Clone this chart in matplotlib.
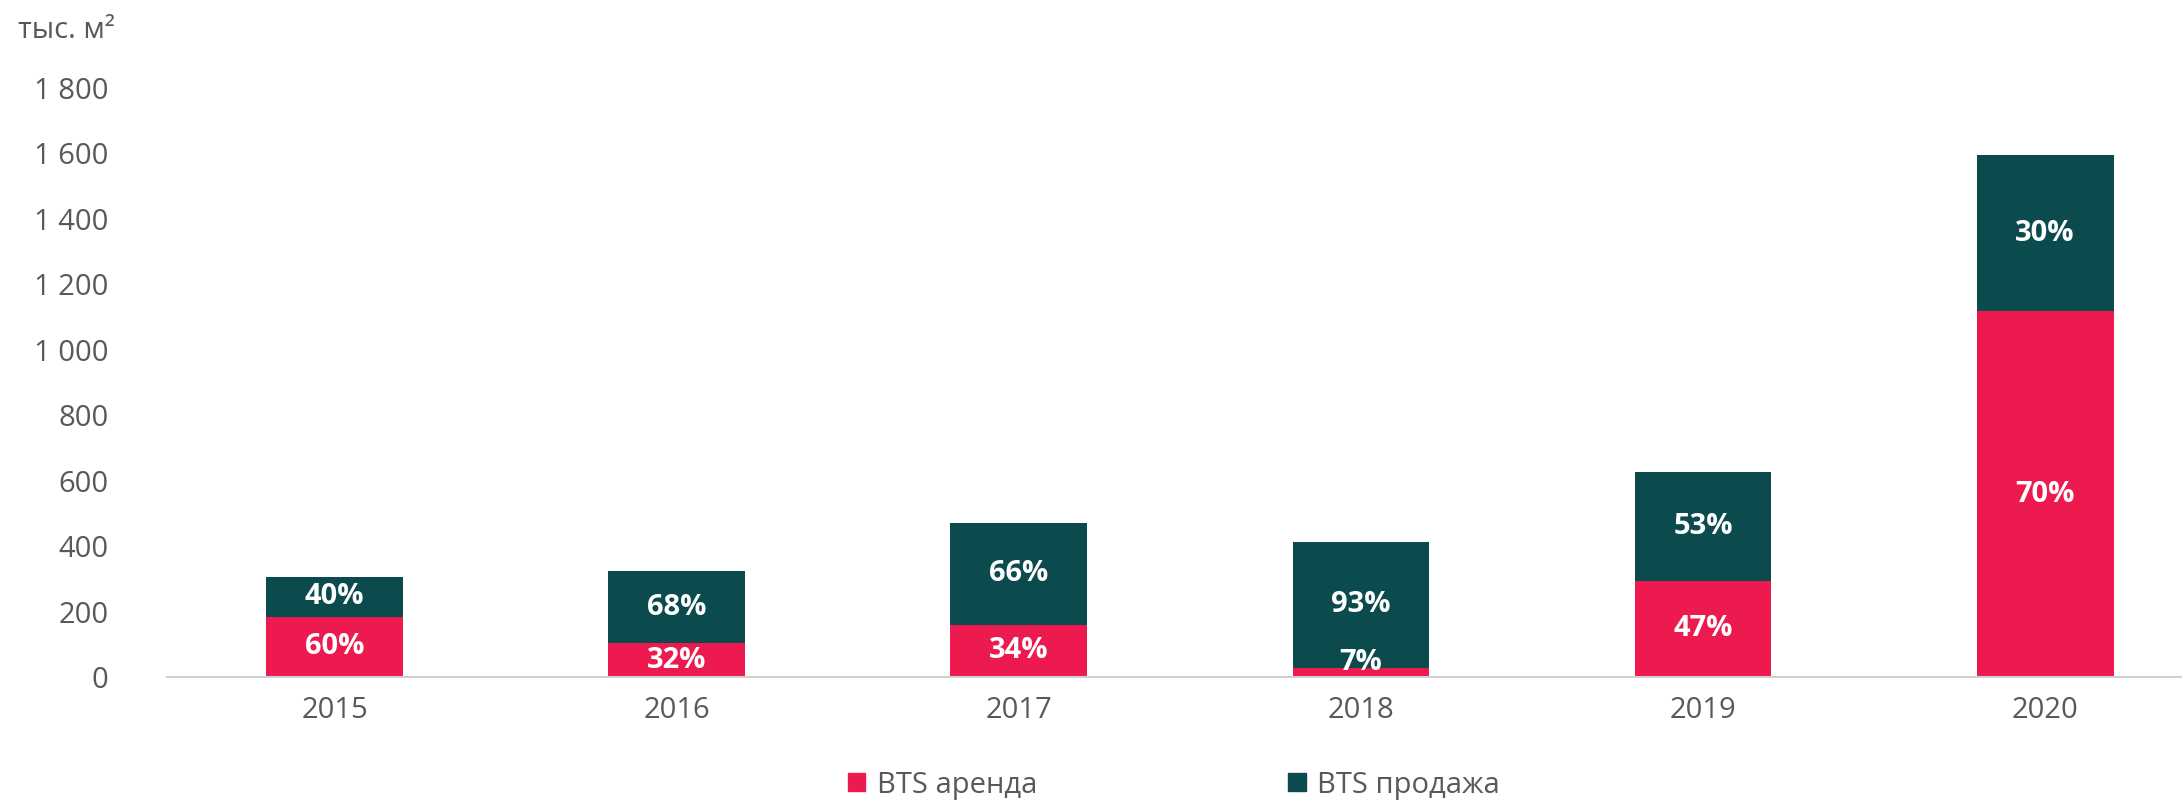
import numpy as np
import matplotlib.pyplot as plt
from matplotlib.patches import Patch

plt.rcParams['font.family'] = ['Open Sans', 'DejaVu Sans']

years = ['2015', '2016', '2017', '2018', '2019', '2020']
rent = [184, 103, 160, 29, 294, 1117]
sale = [122, 220, 312, 385, 332, 479]
rent_pct = ['60%', '32%', '34%', '7%', '47%', '70%']
sale_pct = ['40%', '68%', '66%', '93%', '53%', '30%']
yticks = [0, 200, 400, 600, 800, 1000, 1200, 1400, 1600, 1800]
ytick_labels = ['0', '200', '400', '600', '800', '1 000', '1 200', '1 400', '1 600', '1 800']

c_rent = '#EC1A4F'
c_sale = '#0B4A4D'
gray = '#595959'

fig = plt.figure(figsize=(21.82, 8), dpi=100)
ax = fig.add_axes([167 / 2182, 1 - 677 / 800, 1 - 167 / 2182, (677 - 88) / 800])

x = np.arange(len(years))
w = 0.4
ax.bar(x, rent, w, color=c_rent, linewidth=0)
ax.bar(x, sale, w, bottom=rent, color=c_sale, linewidth=0)

for i in range(len(years)):
    y_r = max(rent[i] / 2, 45)
    ax.text(x[i], y_r, rent_pct[i], ha='center', va='center', color='white',
            fontsize=21, fontweight='bold')
    ax.text(x[i], rent[i] + sale[i] / 2, sale_pct[i], ha='center', va='center',
            color='white', fontsize=21, fontweight='bold')

ax.set_xlim(-0.49, 5.40)
ax.set_ylim(0, 1800)
ax.set_xticks(x)
ax.set_xticklabels(years)
ax.set_yticks(yticks)
ax.set_yticklabels(ytick_labels)
ax.tick_params(axis='both', length=0, labelsize=21, labelcolor=gray)
ax.tick_params(axis='y', pad=42)
ax.tick_params(axis='x', pad=14)
for s in ['top', 'right', 'left']:
    ax.spines[s].set_visible(False)
ax.spines['bottom'].set_color('#D0D0D0')
ax.spines['bottom'].set_linewidth(1.5)

fig.text(18 / 2182, 1 - 30 / 800, 'тыс. м²', fontsize=21, color=gray, ha='left', va='center')

handles = [Patch(color=c_rent, label='BTS аренда'), Patch(color=c_sale, label='BTS продажа')]
fig.legend(handles=handles, loc='center', bbox_to_anchor=(1174 / 2182, 1 - 785 / 800),
           ncol=2, frameon=False, fontsize=21, labelcolor=gray,
           handlelength=0.6, handleheight=0.6, handletextpad=0.4, columnspacing=8.6)

fig.savefig('out.png', dpi=100)
